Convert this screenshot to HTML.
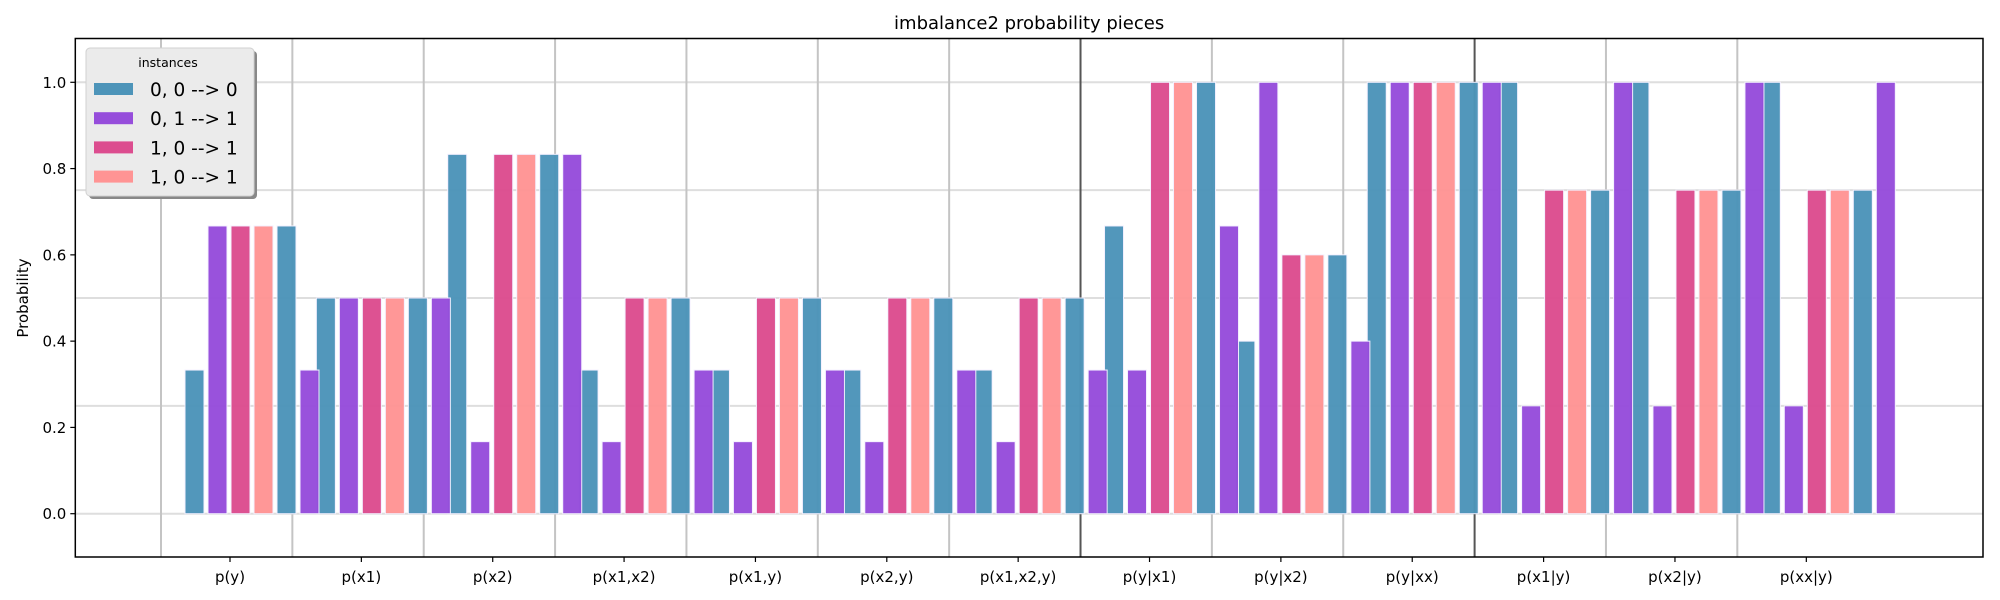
<!DOCTYPE html>
<html><head><meta charset="utf-8"><style>
body{margin:0;background:#fff;}
svg{display:block;font-family:"DejaVu Sans","Liberation Sans",sans-serif;}
</style></head><body>
<svg id="chart" width="2000" height="600"></svg>
<script>
const categories=["p(y)","p(x1)","p(x2)","p(x1,x2)","p(x1,y)","p(x2,y)","p(x1,x2,y)","p(y|x1)","p(y|x2)","p(y|xx)","p(x1|y)","p(x2|y)","p(xx|y)"];
const seriesNames=["0, 0 --> 0","0, 1 --> 1","1, 0 --> 1","1, 0 --> 1"];
const slotSeries=[0,1,2,3,0,1];
const values=[
[0.333,0.667,0.667,0.667,0.667,0.333],
[0.5,0.5,0.5,0.5,0.5,0.5],
[0.833,0.167,0.833,0.833,0.833,0.833],
[0.333,0.167,0.5,0.5,0.5,0.333],
[0.333,0.167,0.5,0.5,0.5,0.333],
[0.333,0.167,0.5,0.5,0.5,0.333],
[0.333,0.167,0.5,0.5,0.5,0.333],
[0.667,0.333,1,1,1,0.667],
[0.4,1,0.6,0.6,0.6,0.4],
[1,1,1,1,1,1],
[1,0.25,0.75,0.75,0.75,1],
[1,0.25,0.75,0.75,0.75,1],
[1,0.25,0.75,0.75,0.75,1]];
const yTicks=[0,0.2,0.4,0.6,0.8,1.0];
const yGrid=[0,0.25,0.5,0.75,1.0];
const darkSeparators=[7,10];
const colors=["#4d94b9","#964ddb","#dc4d8f","#ff9494"];

const NS="http://www.w3.org/2000/svg";
const svg=document.getElementById('chart');
const L=75.3,R=1983,T=38.5,B=557;
const y=v=>513.7-v*431.4;
const step=131.36;
const tickX=i=>230+i*step;
const barX=(g,k)=>185+g*step+k*23;
function mk(tag,attrs,parent){const e=document.createElementNS(NS,tag);for(const k in attrs)e.setAttribute(k,attrs[k]);(parent||svg).appendChild(e);return e;}

yGrid.forEach(v=>{const l=mk('line',{x1:L,x2:R,y1:y(v),y2:y(v),stroke:'#dedede','stroke-width':2});

});
for(let k=0;k<categories.length;k++){const x=161+k*step;const dark=darkSeparators.includes(k);
const l=mk('line',{x1:x,x2:x,y1:T,y2:B,stroke:dark?'#555':'#c4c4c4','stroke-width':2});

}
for(let k=0;k<6;k++){for(let g=0;g<categories.length;g++){const v=values[g][k];
const r=mk('rect',{x:barX(g,k),y:y(v),width:19,height:y(0)-y(v),fill:colors[slotSeries[k]],stroke:'#f4f0ff','stroke-width':1,opacity:0.97});

}}
const fr=mk('rect',{x:L,y:T,width:R-L,height:B-T,fill:'none',stroke:'#000','stroke-width':1.5});


yTicks.forEach(v=>{mk('line',{x1:L-5,x2:L,y1:y(v),y2:y(v),stroke:'#000','stroke-width':1.2});
const t=mk('text',{x:L-9,y:y(v)+5.5,'text-anchor':'end','font-size':15,fill:'#000'});t.textContent=v.toFixed(1);

});
categories.forEach((c,i)=>{mk('line',{x1:tickX(i),x2:tickX(i),y1:B,y2:B+5,stroke:'#000','stroke-width':1.2});
const t=mk('text',{x:tickX(i),y:582,'text-anchor':'middle','font-size':15,fill:'#000'});t.textContent=c;

});
const ti=mk('text',{x:(L+R)/2,y:29,'text-anchor':'middle','font-size':18,fill:'#000'});ti.textContent='imbalance2 probability pieces';


const yl=mk('text',{x:0,y:0,'text-anchor':'middle','font-size':15,fill:'#000',transform:'translate(28,298) rotate(-90)'});yl.textContent='Probability';


const lg=mk('g',{});


mk('rect',{x:89,y:51,width:168,height:148,rx:4,fill:'#888'},lg);
mk('rect',{x:86,y:48,width:168,height:148,rx:4,fill:'#ebebeb',stroke:'#d0d0d0','stroke-width':1},lg);
const lt=mk('text',{x:168,y:67,'text-anchor':'middle','font-size':12.5,fill:'#000'},lg);lt.textContent='instances';
seriesNames.forEach((n,i)=>{const cy=89+i*29.2;
const e=mk('g',{},lg);


mk('rect',{x:94,y:cy-6,width:39,height:12,fill:colors[i]},e);
const t=mk('text',{x:150,y:cy+7,'font-size':18.5,fill:'#000'},e);t.textContent=n;});
</script>
</body></html>
